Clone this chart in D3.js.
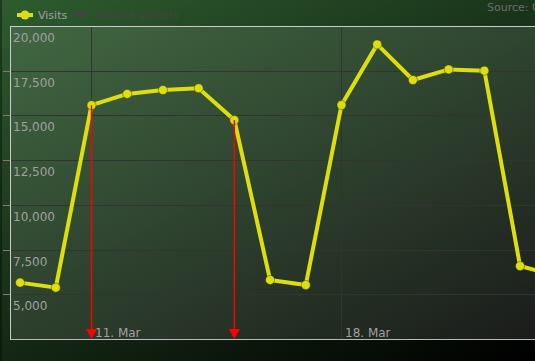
<!DOCTYPE html>
<html>
<head>
<meta charset="utf-8">
<script src="https://cdn.jsdelivr.net/npm/d3@7"></script>
<style>
html,body{margin:0;padding:0;background:#000;overflow:hidden;}
svg{display:block;font-family:"DejaVu Sans",sans-serif;}
</style>
</head>
<body>
<svg id="chart" width="535" height="361"></svg>
<script>
// ---- data ----
const days = ["2013-03-09","2013-03-10","2013-03-11","2013-03-12","2013-03-13","2013-03-14","2013-03-15","2013-03-16","2013-03-17","2013-03-18","2013-03-19","2013-03-20","2013-03-21","2013-03-22","2013-03-23","2013-03-24"];
const visits = [5680,5400,15600,16230,16450,16545,14770,5830,5550,15610,19000,17010,17600,17530,6610,6080];
const flagDays = ["2013-03-11","2013-03-15"];
const yTicks = [2500,5000,7500,10000,12500,15000,17500,20000];
const xTickDays = ["2013-03-11","2013-03-18"];
const seriesNames = ["Visits","Unique Visitors"];
const sourceText = "Source: Google Analytics";

const parse = d3.utcParse("%Y-%m-%d");
const W = 535, H = 361;
const plot = {left:10, top:26.5, bottom:339.5, right:700};

const svg = d3.select("#chart");
const defs = svg.append("defs");
const bg = defs.append("linearGradient").attr("id","bg")
  .attr("gradientUnits","userSpaceOnUse").attr("x1",0).attr("y1",0).attr("x2",250).attr("y2",500);
bg.append("stop").attr("offset",0).attr("stop-color","rgb(46,92,47)");
bg.append("stop").attr("offset",1).attr("stop-color","rgb(0,0,0)");

svg.append("rect").attr("width",W).attr("height",H).attr("fill","url(#bg)");
svg.append("rect").attr("x",0).attr("y",0).attr("width",2).attr("height",H).attr("fill","rgba(0,0,0,0.35)");

// scales
const x = d3.scaleUtc().domain([parse(xTickDays[0]), parse(xTickDays[1])]).range([91.5, 341.5]);
const y = d3.scaleLinear().domain([2500, 20000]).range([plot.bottom, plot.top]);

// plot background
svg.append("rect").attr("x",plot.left).attr("y",plot.top)
  .attr("width",plot.right-plot.left).attr("height",plot.bottom-plot.top)
  .attr("fill","rgba(255,255,255,0.1)");

// horizontal gridlines
const rY = v => Math.round(y(v)-0.5)+0.5;
const inner = yTicks.filter(v=>v>2500 && v<20000);
svg.append("g").selectAll("line").data(inner).join("line")
  .attr("x1",plot.left).attr("x2",W).attr("y1",rY).attr("y2",rY)
  .attr("stroke","#333333").attr("stroke-width",1);
// vertical gridlines
const rX = d => Math.round(x(parse(d))-0.5)+0.5;
svg.append("g").selectAll("line").data(xTickDays).join("line")
  .attr("x1",rX).attr("x2",rX)
  .attr("y1",plot.top).attr("y2",plot.bottom)
  .attr("stroke","#333333").attr("stroke-width",1);

// y ticks (left of plot)
svg.append("g").selectAll("line").data(inner).join("line")
  .attr("x1",3).attr("x2",plot.left).attr("y1",rY).attr("y2",rY)
  .attr("stroke","#7a7a7a").attr("stroke-width",1);

// plot border
svg.append("line").attr("x1",plot.left).attr("x2",W).attr("y1",plot.top).attr("y2",plot.top)
  .attr("stroke","#CCCCCC");
svg.append("line").attr("x1",plot.left+0.5).attr("x2",plot.left+0.5).attr("y1",plot.top).attr("y2",plot.bottom)
  .attr("stroke","#CCCCCC");
svg.append("line").attr("x1",plot.left).attr("x2",W).attr("y1",plot.bottom).attr("y2",plot.bottom)
  .attr("stroke","#BBBBBB");

// y labels
const fmt = d3.format(",");
svg.append("g").selectAll("text").data(yTicks.filter(v=>v>2500)).join("text")
  .attr("x",13).attr("y",d=>y(d)+15.5)
  .attr("fill","#A0A0A0").attr("font-size","12px").text(d=>fmt(d));

// x labels
const fmtX = d3.utcFormat("%d. %b");
svg.append("g").selectAll("text").data(xTickDays).join("text")
  .attr("x",d=>x(parse(d))+3.5).attr("y",337)
  .attr("fill","#A0A0A0").attr("font-size","12px").text(d=>fmtX(parse(d)));

// series line
const data = days.map((d,i)=>({date:parse(d), v:visits[i]}));
const line = d3.line().x(d=>x(d.date)).y(d=>y(d.v));
svg.append("path").datum(data).attr("d",line).attr("fill","none")
  .attr("stroke","#DDDF0D").attr("stroke-width",4).attr("stroke-linejoin","round");
svg.append("g").selectAll("circle").data(data).join("circle")
  .attr("cx",d=>x(d.date)).attr("cy",d=>y(d.v)).attr("r",4.5)
  .attr("fill","#DDDF0D").attr("stroke","rgba(60,60,20,0.45)").attr("stroke-width",1);

// flags (on top of series)
const flagG = svg.append("g");
flagDays.forEach(d=>{
  const i = days.indexOf(d);
  const px = x(parse(d));
  flagG.append("line").attr("x1",px).attr("x2",px).attr("y1",y(visits[i])).attr("y2",333)
    .attr("stroke","#FF0000").attr("stroke-width",1.5);
  flagG.append("path").attr("d",`M${px-5.5},329 L${px+5.5},329 L${px},339 Z`).attr("fill","#FF0000");
});

// legend
const lg = svg.append("g");
lg.append("line").attr("x1",17).attr("x2",33).attr("y1",15).attr("y2",15)
  .attr("stroke","#DDDF0D").attr("stroke-width",4);
lg.append("circle").attr("cx",25).attr("cy",15).attr("r",4.5).attr("fill","#DDDF0D");
lg.append("text").attr("x",38).attr("y",19).attr("fill","#A0A0A0").attr("font-size","11px").text(seriesNames[0]);
lg.append("line").attr("x1",73).attr("x2",89).attr("y1",15).attr("y2",15)
  .attr("stroke","#444444").attr("stroke-width",2);
lg.append("path").attr("d","M81,11 L85,15 L81,19 L77,15 Z").attr("fill","#444444");
lg.append("text").attr("x",96).attr("y",19).attr("fill","#444444").attr("font-size","11px").text(seriesNames[1]);

// source (clipped by the right edge, as in the reference)
svg.append("text").attr("x",487).attr("y",11).attr("fill","#6e6e6e").attr("font-size","11px").text(sourceText);
</script>
</body>
</html>
